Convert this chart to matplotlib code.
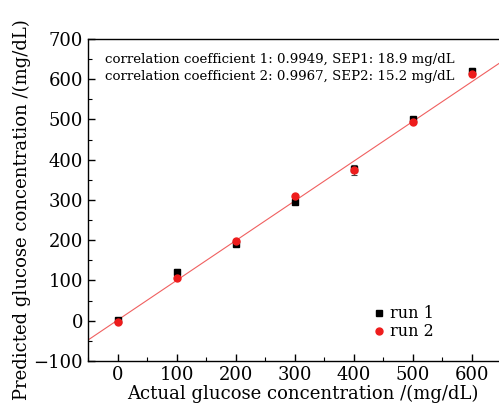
import numpy as np
import matplotlib.pyplot as plt
from matplotlib.ticker import MultipleLocator

# actual vs predicted glucose (mg/dL)
actual = [0, 100, 200, 300, 400, 500, 600]
run1 = [3, 121, 190, 296, 378, 500, 621]
run1_err = [4, 7, 4, 5, 6, 4, 6]
run2 = [-2, 107, 199, 311, 375, 495, 614]
run2_err = [3, 4, 3, 4, 12, 3, 5]

fit_x = [-50, 650]
slope, intercept = 0.987, 1.4

plt.rcParams['font.family'] = 'DejaVu Serif'

fig = plt.figure(figsize=(4.99, 4.11), dpi=100)
ax = fig.add_axes([0.1764, 0.1217, 0.828, 0.7834])

fx = np.array(fit_x)
ax.plot(fx, slope * fx + intercept, color='#f06060', lw=0.8, zorder=1)

ax.errorbar(actual, run1, yerr=run1_err, fmt='none', ecolor='#333333',
            elinewidth=0.8, capsize=2, capthick=0.8, zorder=2)
ax.errorbar(actual, run2, yerr=run2_err, fmt='none', ecolor='#444444',
            elinewidth=0.8, capsize=2, capthick=0.8, zorder=2)
ax.plot(actual, run1, 's', color='black', ms=4.5, label='run 1', zorder=3)
ax.plot(actual, run2, 'o', color='#ee1c1c', ms=5, label='run 2', zorder=4)

ax.set_xlim(-50, 650)
ax.set_ylim(-100, 700)
ax.xaxis.set_major_locator(MultipleLocator(100))
ax.xaxis.set_minor_locator(MultipleLocator(50))
ax.yaxis.set_minor_locator(MultipleLocator(50))
ax.set_yticks(range(-100, 701, 100))
ax.set_yticklabels(['\u2212100'] + [str(v) for v in range(0, 701, 100)])
ax.tick_params(which='both', direction='in', labelsize=13)
ax.tick_params(which='major', length=5, width=1)
ax.tick_params(which='minor', length=3, width=0.8)
for s in ax.spines.values():
    s.set_linewidth(1)

ax.set_xlabel('Actual glucose concentration /(mg/dL)', fontsize=13, labelpad=1, x=0.52)
ax.set_ylabel('Predicted glucose concentration /(mg/dL)', fontsize=13, labelpad=2, y=0.47)

ax.text(0.041, 0.955, 'correlation coefficient 1: 0.9949, SEP1: 18.9 mg/dL\n'
        'correlation coefficient 2: 0.9967, SEP2: 15.2 mg/dL',
        transform=ax.transAxes, fontsize=9.6, va='top', linespacing=1.4)

ax.legend(loc='lower left', bbox_to_anchor=(0.67, 0.04), frameon=False,
          fontsize=11.5, handletextpad=0.3, handlelength=0.8, labelspacing=0.05,
          borderpad=0)

fig.savefig('out.png', dpi=100)
